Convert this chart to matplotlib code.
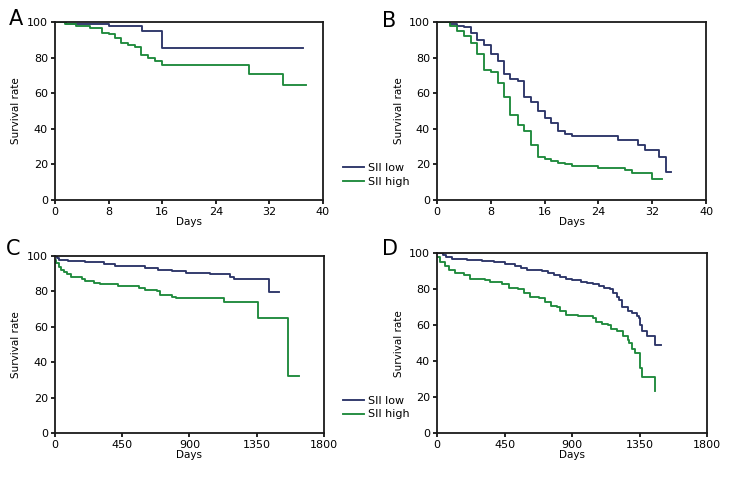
import matplotlib
matplotlib.use("Agg")
import matplotlib.pyplot as plt
from matplotlib.lines import Line2D

plt.rcParams['font.family'] = ['Liberation Sans Narrow', 'DejaVu Sans']

NAVY = "#2c3568"
GREEN = "#1f8a3c"

# panel A (days)
a_low_t = [0, 1.7, 8, 13, 16, 37]
a_low_s = [100, 99, 98, 95, 85.5, 85.5]
a_high_t = [0, 1.5, 3.2, 5.2, 7, 8, 8.9, 9.9, 10.9, 11.9, 12.9, 13.9, 14.9, 16, 29, 34, 37.5]
a_high_s = [100, 99, 98, 96.5, 94, 93, 91, 88.5, 87, 86, 81.5, 80, 78, 76, 71, 64.5, 64.5]

# panel B (days)
b_low_t = [0, 2, 3, 4, 5, 6, 7, 8, 9, 9.9, 10.9, 12, 13, 14, 15, 16, 17, 18, 19, 20,
           26.9, 29.9, 30.9, 33, 34, 34.8]
b_low_s = [100, 99, 98, 97, 94, 90, 87, 82, 78, 71, 68, 67, 58, 55, 50, 46, 43, 39, 37, 36,
           34, 31, 28, 24, 16, 16]
b_high_t = [0, 2, 3, 4, 5, 6, 7, 8, 9, 9.9, 10.9, 12, 13, 14, 15, 16, 17, 18, 19, 20,
            24, 28, 29, 32, 33.5]
b_high_s = [100, 98, 95, 92, 88, 82, 73, 72, 66, 58, 48, 42, 39, 31, 24, 23, 22, 21, 20, 19,
            18, 17, 15, 12, 12]

# panel C (days)
c_low_t = [0, 15, 30, 90, 200, 330, 400, 600, 690, 780, 880, 1040, 1170, 1200, 1430, 1500]
c_low_s = [100, 99, 98, 97, 96.5, 95.3, 94.2, 93, 92.3, 91.4, 90.4, 90, 88, 87, 79.7, 79.7]
c_high_t = [0, 10, 25, 40, 60, 80, 110, 180, 200, 260, 300, 420, 560, 600, 680, 700, 780, 810,
            1130, 1360, 1560, 1630]
c_high_s = [98, 96, 94, 92, 91, 90, 88, 87, 86, 85, 84, 83, 82, 81, 80, 78, 77, 76,
            74, 65, 32, 32]

# panel D (days)
d_low_t = [0, 40, 60, 100, 200, 300, 380, 450, 520, 560, 600, 700, 740, 780, 820, 860, 900,
           960, 1000, 1040, 1080, 1110, 1150, 1170, 1200, 1210, 1230, 1270, 1300, 1330, 1345,
           1355, 1365, 1400, 1450, 1490]
d_low_s = [100, 99, 98, 97, 96.5, 96, 95, 94, 93, 92, 91, 90, 89, 88, 87, 86, 85,
           84, 83.5, 83, 82, 81, 80, 78, 76, 74, 70, 68, 67, 65, 64,
           60, 57, 54, 49.3, 49.3]
d_high_t = [0, 20, 50, 80, 120, 180, 220, 320, 350, 430, 480, 540, 580, 620, 680, 720, 760,
            800, 820, 860, 940, 1040, 1060, 1100, 1140, 1160, 1200, 1240, 1270, 1280, 1300,
            1320, 1355, 1365, 1450, 1450]
d_high_s = [98, 95, 93, 91, 89, 88, 86, 85, 84, 83, 81, 80, 78, 76, 75, 73, 71,
            70, 68, 66, 65, 64, 62, 61, 60, 58, 57, 54, 52, 50, 47,
            44.5, 36, 31, 31, 23.5]

panels = [
    ("A", [0.0751, 0.5833, 0.3661, 0.3708], a_low_t, a_low_s, a_high_t, a_high_s, 40, [0, 8, 16, 24, 32, 40]),
    ("B", [0.5970, 0.5833, 0.3675, 0.3708], b_low_t, b_low_s, b_high_t, b_high_s, 40, [0, 8, 16, 24, 32, 40]),
    ("C", [0.0751, 0.0979, 0.3675, 0.3688], c_low_t, c_low_s, c_high_t, c_high_s, 1800, [0, 450, 900, 1350, 1800]),
    ("D", [0.5970, 0.0979, 0.3689, 0.3740], d_low_t, d_low_s, d_high_t, d_high_s, 1800, [0, 450, 900, 1350, 1800]),
]
letter_pos = {"A": (0.012, 0.981), "B": (0.522, 0.978), "C": (0.008, 0.503), "D": (0.522, 0.503)}

fig = plt.figure(figsize=(7.32, 4.8), dpi=100)
for name, rect, lt, ls, ht, hs, xmax, xt in panels:
    ax = fig.add_axes(rect)
    ax.step(lt, ls, where="post", color=NAVY, lw=1.35)
    ax.step(ht, hs, where="post", color=GREEN, lw=1.35)
    ax.set_xlim(0, xmax)
    ax.set_ylim(0, 100)
    ax.set_xticks(xt)
    ax.set_yticks([0, 20, 40, 60, 80, 100])
    ax.tick_params(direction="out", length=3, width=1.2, labelsize=8, pad=2)
    for s in ax.spines.values():
        s.set_linewidth(1.3)
        s.set_color("#1a1a1a")
    ax.set_ylabel("Survival rate", fontsize=7.5, labelpad=4)
    ax.set_xlabel("Days", fontsize=7.5, labelpad=0)
    fig.text(*letter_pos[name], name, fontsize=15, ha="left", va="top")

handles = [Line2D([], [], color=NAVY, lw=1.35), Line2D([], [], color=GREEN, lw=1.35)]
for y in (0.636, 0.151):
    fig.legend(handles, ["SII low", "SII high"], loc="center left", bbox_to_anchor=(0.468, y),
               frameon=False, fontsize=8, handlelength=1.9, handletextpad=0.4,
               labelspacing=0.35, borderpad=0, borderaxespad=0)

fig.savefig("out.png", dpi=100)
